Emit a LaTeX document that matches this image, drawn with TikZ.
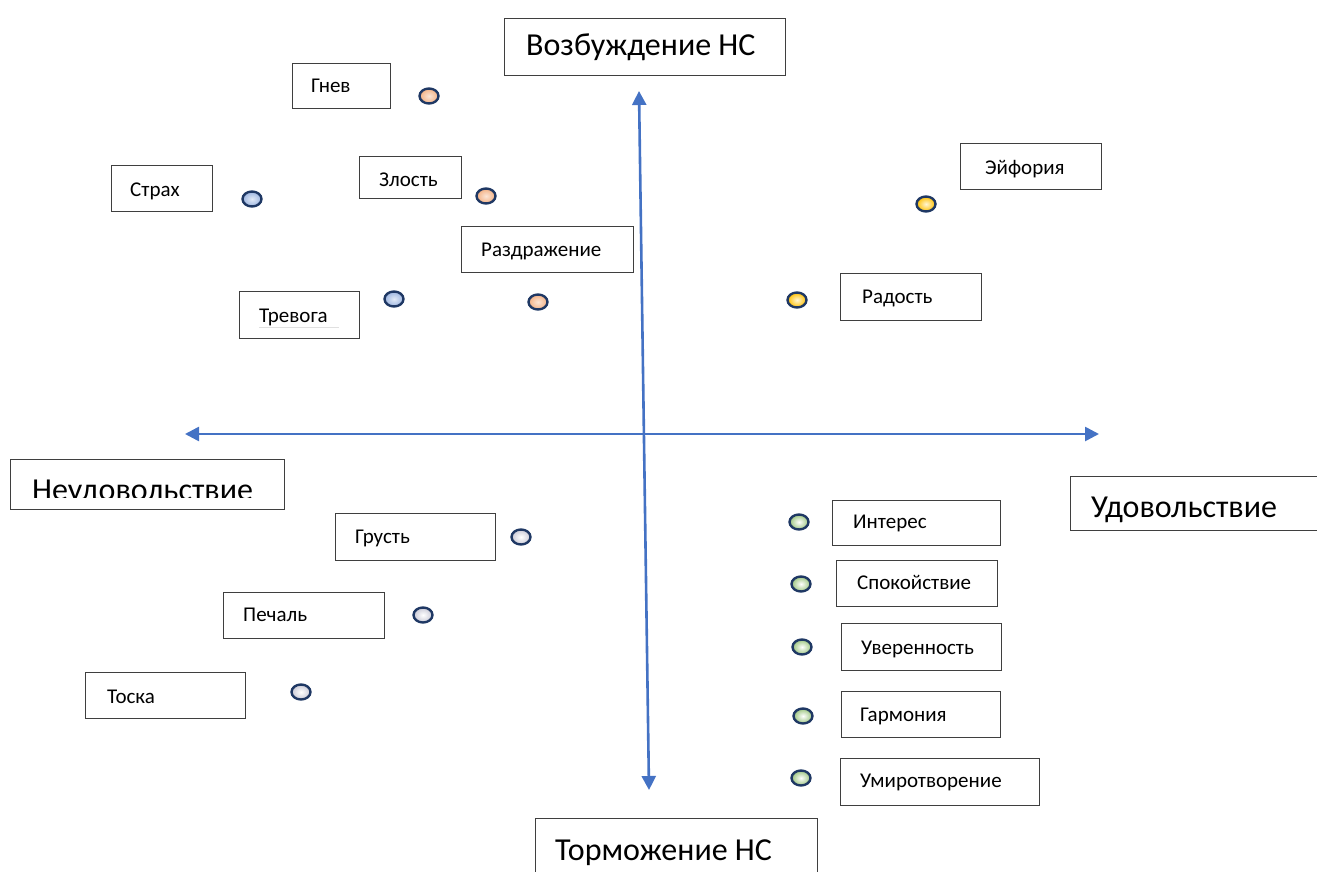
\documentclass[tikz,border=0pt]{standalone}
\usepackage{fontspec}
\setmainfont{Carlito}
\usetikzlibrary{arrows.meta,shapes.geometric}
\definecolor{framegray}{HTML}{3F3F3F}
\definecolor{axisblue}{HTML}{4472C4}
\definecolor{rimnavy}{HTML}{1F3864}
\definecolor{angerout}{HTML}{F4B183}
\definecolor{angerin}{HTML}{FBE5D6}
\definecolor{fearout}{HTML}{9DB5E0}
\definecolor{fearin}{HTML}{E2EAF7}
\definecolor{joyout}{HTML}{FFC000}
\definecolor{joyin}{HTML}{FFF6D5}
\definecolor{calmout}{HTML}{9CC57F}
\definecolor{calmin}{HTML}{FFFFFF}
\definecolor{sadout}{HTML}{C9C9D6}
\definecolor{sadin}{HTML}{FFFFFF}
\begin{document}
\begin{tikzpicture}[x=1pt,y=-1pt,
  frame/.style={draw=framegray, line width=1.2pt, anchor=north west, inner sep=0pt},
  lbl/.style={anchor=base west, inner sep=0pt, font=\fontsize{21}{25}\selectfont},
  big/.style={anchor=base west, inner sep=0pt, font=\fontsize{32}{38}\selectfont},
  axis/.style={draw=axisblue, line width=2.6pt,
    {Triangle[length=14pt,width=14pt]}-{Triangle[length=14pt,width=14pt]}},
  dot/.style={ellipse, draw=rimnavy, line width=2.4pt, minimum width=19pt,
    minimum height=15pt, inner sep=0pt},
  anger/.style={dot, inner color=angerin, outer color=angerout},
  fear/.style={dot, inner color=fearin, outer color=fearout},
  joy/.style={dot, inner color=joyin, outer color=joyout},
  calm/.style={dot, inner color=calmin, outer color=calmout},
  sad/.style={dot, inner color=sadin, outer color=sadout},
]
\clip (0,0) rectangle (1317,872);

% axes
\coordinate (vtop) at (639,91);
\coordinate (vbot) at (649,790);
\coordinate (hleft) at (185,434);
\coordinate (hright) at (1099,434);
\draw[axis] (hleft) -- (hright);
\draw[axis] (vtop) -- (vbot);

% axis captions
\node[frame, minimum width=281pt, minimum height=57pt] (excbox) at (504,18) {};
\node[big] (exc) at (526,56) {Возбуждение НС};
\node[frame, minimum width=282pt, minimum height=70pt] (inhbox) at (535,818) {};
\node[big] (inh) at (555,860) {Торможение НС};
\node[frame, minimum width=274pt, minimum height=50pt] (dispbox) at (10,459) {};
\begin{scope}
  \clip (10,459) rectangle (284,497);
  \node[big] (disp) at (32,500) {Неудовольствие};
\end{scope}
\node[frame, minimum width=260pt, minimum height=54pt] (plbox) at (1070,476) {};
\node[big] (pl) at (1091,517) {Удовольствие};

% upper left: anger and fear
\node[frame, minimum width=98pt, minimum height=45pt] (gnevbox) at (292,63) {};
\node[lbl] (gnev) at (311,93) {Гнев};
\node[anger] (gnevdot) at (429,96) {};

\node[frame, minimum width=101pt, minimum height=46pt] (strahbox) at (111,165) {};
\node[lbl] (strah) at (130,196) {Страх};
\node[fear] (strahdot) at (252,199) {};

\node[frame, minimum width=102pt, minimum height=42pt] (zlostbox) at (359,156) {};
\node[lbl] (zlost) at (379,186) {Злость};
\node[anger] (zlostdot) at (486,196) {};

\node[frame, minimum width=172pt, minimum height=46pt] (razdbox) at (461,226) {};
\node[lbl] (razd) at (481,256) {Раздражение};
\node[anger] (razddot) at (538,302) {};

\node[frame, minimum width=120pt, minimum height=47pt] (trevbox) at (239,291) {};
\node[lbl] (trev) at (259,322) {Тревога};
\draw[black!12, line width=0.8pt] (trev.base west) ++(0,5) -- ++(80,0);
\node[fear] (trevdot) at (394,299) {};

% upper right: joy
\node[frame, minimum width=141pt, minimum height=46pt] (eufbox) at (960,143) {};
\node[lbl] (euf) at (985,174) {Эйфория};
\node[joy] (eufdot) at (926,204) {};

\node[frame, minimum width=141pt, minimum height=47pt] (radbox) at (840,273) {};
\node[lbl] (rad) at (862,303) {Радость};
\node[joy] (raddot) at (797,300) {};

% lower left: sadness
\node[frame, minimum width=160pt, minimum height=47pt] (grustbox) at (335,513) {};
\node[lbl] (grust) at (355,543) {Грусть};
\node[sad] (grustdot) at (521,537) {};

\node[frame, minimum width=161pt, minimum height=46pt] (pechbox) at (223,592) {};
\node[lbl] (pech) at (243,621) {Печаль};
\node[sad] (pechdot) at (423,615) {};

\node[frame, minimum width=160pt, minimum height=46pt] (toskabox) at (85,672) {};
\node[lbl] (toska) at (107,703) {Тоска};
\node[sad] (toskadot) at (301,692) {};

% lower right: calm states
\node[frame, minimum width=168pt, minimum height=45pt] (intbox) at (832,500) {};
\node[lbl] (int) at (853,528) {Интерес};
\node[calm] (intdot) at (799,522) {};

\node[frame, minimum width=161pt, minimum height=46pt] (spokbox) at (836,560) {};
\node[lbl] (spok) at (857,589) {Спокойствие};
\node[calm] (spokdot) at (801,584) {};

\node[frame, minimum width=160pt, minimum height=47pt] (uverbox) at (841,623) {};
\node[lbl] (uver) at (861,654) {Уверенность};
\node[calm] (uverdot) at (802,647) {};

\node[frame, minimum width=159pt, minimum height=46pt] (garmbox) at (841,691) {};
\node[lbl] (garm) at (860,721) {Гармония};
\node[calm] (garmdot) at (803,716) {};

\node[frame, minimum width=199pt, minimum height=47pt] (umirbox) at (840,758) {};
\node[lbl] (umir) at (860,787) {Умиротворение};
\node[calm] (umirdot) at (801,778) {};
\end{tikzpicture}
\end{document}
